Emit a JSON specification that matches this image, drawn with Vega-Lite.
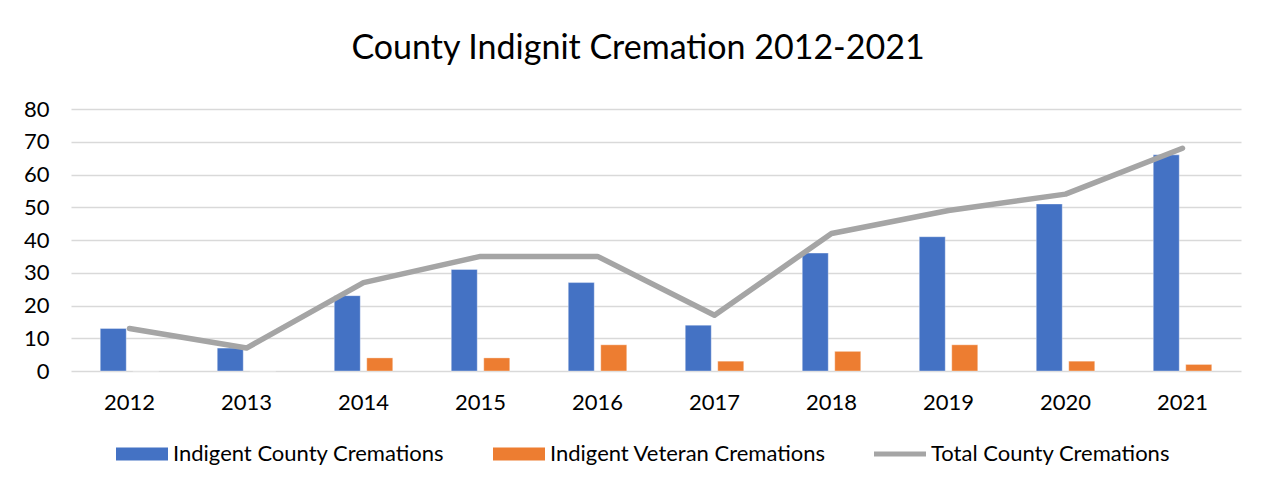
{
  "$schema": "https://vega.github.io/schema/vega-lite/v6.json",
  "width": 1170,
  "height": 262,
  "autosize": {"type": "none"},
  "padding": {"left": 71, "top": 109, "right": 27, "bottom": 118},
  "background": "white",
  "title": {"text": "County Indignit Cremation 2012-2021", "font": "Lato", "fontSize": 34, "fontWeight": "normal", "color": "#000", "offset": 32, "anchor": "middle", "dx": -18},
  "data": {"values": [
    {"year": "2012", "series": "Indigent County Cremations", "value": 13},
    {"year": "2012", "series": "Indigent Veteran Cremations", "value": 0},
    {"year": "2012", "series": "Total County Cremations", "value": 13},
    {"year": "2013", "series": "Indigent County Cremations", "value": 7},
    {"year": "2013", "series": "Indigent Veteran Cremations", "value": 0},
    {"year": "2013", "series": "Total County Cremations", "value": 7},
    {"year": "2014", "series": "Indigent County Cremations", "value": 23},
    {"year": "2014", "series": "Indigent Veteran Cremations", "value": 4},
    {"year": "2014", "series": "Total County Cremations", "value": 27},
    {"year": "2015", "series": "Indigent County Cremations", "value": 31},
    {"year": "2015", "series": "Indigent Veteran Cremations", "value": 4},
    {"year": "2015", "series": "Total County Cremations", "value": 35},
    {"year": "2016", "series": "Indigent County Cremations", "value": 27},
    {"year": "2016", "series": "Indigent Veteran Cremations", "value": 8},
    {"year": "2016", "series": "Total County Cremations", "value": 35},
    {"year": "2017", "series": "Indigent County Cremations", "value": 14},
    {"year": "2017", "series": "Indigent Veteran Cremations", "value": 3},
    {"year": "2017", "series": "Total County Cremations", "value": 17},
    {"year": "2018", "series": "Indigent County Cremations", "value": 36},
    {"year": "2018", "series": "Indigent Veteran Cremations", "value": 6},
    {"year": "2018", "series": "Total County Cremations", "value": 42},
    {"year": "2019", "series": "Indigent County Cremations", "value": 41},
    {"year": "2019", "series": "Indigent Veteran Cremations", "value": 8},
    {"year": "2019", "series": "Total County Cremations", "value": 49},
    {"year": "2020", "series": "Indigent County Cremations", "value": 51},
    {"year": "2020", "series": "Indigent Veteran Cremations", "value": 3},
    {"year": "2020", "series": "Total County Cremations", "value": 54},
    {"year": "2021", "series": "Indigent County Cremations", "value": 66},
    {"year": "2021", "series": "Indigent Veteran Cremations", "value": 2},
    {"year": "2021", "series": "Total County Cremations", "value": 68}
  ]},
  "encoding": {
    "x": {"field": "year", "type": "nominal", "sort": null,
      "scale": {"paddingInner": 0.5, "paddingOuter": 0.25},
      "axis": {"title": null, "labelAngle": 0, "ticks": false, "domain": false, "grid": false, "labelFont": "Lato", "labelFontSize": 22, "labelColor": "#000", "labelPadding": 21}},
    "y": {"field": "value", "type": "quantitative",
      "scale": {"domain": [0, 80], "nice": false},
      "axis": {"title": null, "values": [0,10,20,30,40,50,60,70,80], "ticks": false, "domain": false, "grid": true, "gridColor": "#D9D9D9", "gridWidth": 1.3, "labelFont": "Lato", "labelFontSize": 22, "labelColor": "#000", "labelPadding": 22}},
    "color": {"field": "series", "type": "nominal",
      "scale": {"domain": ["Indigent County Cremations", "Indigent Veteran Cremations", "Total County Cremations"], "range": ["#4472C4", "#ED7D31", "#A5A5A5"]},
      "legend": {"title": null, "orient": "none", "direction": "horizontal", "legendX": 45, "legendY": 319,
        "labelFont": "Lato", "labelFontSize": 22, "labelColor": "#000", "labelOffset": 5, "labelLimit": 400,
        "columnPadding": 48, "symbolSize": 2704, "symbolStrokeWidth": 0,
        "encode": {"symbols": {"update": {
          "shape": {"signal": "datum.value === 'Total County Cremations' ? 'M-1,-0.1H1V0.1H-1Z' : 'M-1,-0.25H1V0.25H-1Z'"},
          "fill": {"scale": "color", "field": "value"},
          "stroke": {"value": "transparent"}
        }}}}
    }
  },
  "layer": [
    {
      "transform": [{"filter": "datum.series !== 'Total County Cremations'"}],
      "mark": {"type": "bar", "stroke": "white", "strokeWidth": 0.6, "strokeOpacity": 0.6},
      "encoding": {
        "xOffset": {"field": "series", "type": "nominal", "scale": {"paddingInner": 0.2, "paddingOuter": 0}}
      }
    },
    {
      "transform": [{"filter": "datum.series === 'Total County Cremations'"}],
      "mark": {"type": "line", "strokeWidth": 5.5, "strokeCap": "round", "strokeJoin": "round"},
      "encoding": {}
    }
  ],
  "config": {"view": {"stroke": null}}
}
